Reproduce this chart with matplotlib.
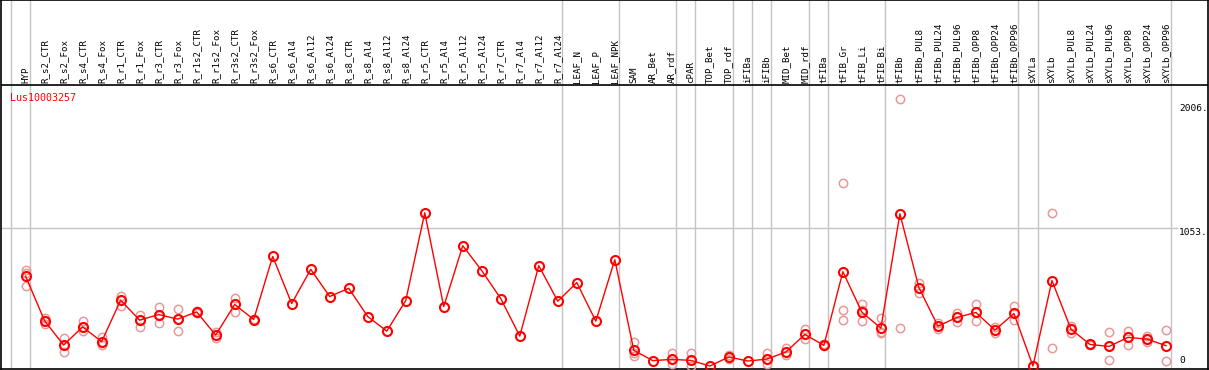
import matplotlib
matplotlib.use('Agg')
import matplotlib.pyplot as plt

# column labels, one per sample
labels = ['HYP',
          'R_s2_CTR', 'R_s2_Fox', 'R_s4_CTR', 'R_s4_Fox', 'R_r1_CTR', 'R_r1_Fox',
          'R_r3_CTR', 'R_r3_Fox', 'R_r1s2_CTR', 'R_r1s2_Fox', 'R_r3s2_CTR', 'R_r3s2_Fox',
          'R_s6_CTR', 'R_s6_Al4', 'R_s6_Al12', 'R_s6_Al24',
          'R_s8_CTR', 'R_s8_Al4', 'R_s8_Al12', 'R_s8_Al24',
          'R_r5_CTR', 'R_r5_Al4', 'R_r5_Al12', 'R_r5_Al24',
          'R_r7_CTR', 'R_r7_Al4', 'R_r7_Al12', 'R_r7_Al24',
          'LEAF_N', 'LEAF_P', 'LEAF_NPK',
          'SAM', 'AR_Bet', 'AR_rdf', 'cPAR', 'TOP_Bet', 'TOP_rdf', 'iFIBa', 'iFIBb',
          'MID_Bet', 'MID_rdf', 'tFIBa', 'tFIB_Gr', 'tFIB_Li', 'tFIB_Bi',
          'tFIBb', 'tFIBb_PUL8', 'tFIBb_PUL24', 'tFIBb_PUL96', 'tFIBb_OPP8', 'tFIBb_OPP24', 'tFIBb_OPP96',
          'sXYLa', 'sXYLb', 'sXYLb_PUL8', 'sXYLb_PUL24', 'sXYLb_PUL96', 'sXYLb_OPP8', 'sXYLb_OPP24', 'sXYLb_OPP96']

# mean expression per sample
mean_vals = [687, 346, 160, 300, 186, 504, 351, 394, 359, 414, 237, 471, 356,
             839, 478, 740, 532, 595, 379, 267, 501,
             1173, 455, 921, 730, 516, 229, 768, 496,
             639, 343, 814,
             120, 41, 51, 43, 0, 69, 38, 53, 107, 242, 158, 722, 412, 290,
             1165, 600, 305, 372, 410, 275, 402,
             0, 654, 282, 165, 150, 219, 206, 156]

# individual replicates (empty where they sit on the mean)
reps = [[733, 715, 613], [364, 346, 320], [211, 160, 104], [343, 300, 267], [221, 186, 160],
        [537, 504, 458], [389, 351, 300], [455, 394, 333], [440, 359, 267], [420, 414, 405],
        [262, 237, 211], [524, 471, 414], [360, 356, 350],
        [], [], [], [], [], [], [], [], [], [], [], [], [], [], [], [],
        [], [], [],
        [186, 97, 76], [], [97, 51, 15], [97, 43, 0], [], [83, 69, 53], [], [97, 53, 15],
        [135, 107, 84], [282, 242, 206], [165, 158, 152], [1401, 425, 349], [473, 430, 341],
        [364, 257, 249],
        [2045, 288], [636, 600, 559], [326, 305, 280], [407, 372, 338], [478, 410, 343],
        [300, 275, 254], [458, 402, 356],
        [], [1173, 135], [305, 282, 254], [172, 165, 158], [257, 153, 43], [265, 219, 163],
        [231, 206, 181], [275, 38]]

# last column index of each group (grey separators)
group_ends = [-1, 0, 28, 31, 34, 35, 37, 38, 39, 41, 42, 45, 52, 53, 60]

ytick_vals = [2006, 1053]
ytick_text = ['2006.', '1053.']
title = 'Lus10003257'

font = 'DejaVu Sans Mono'
grey = '#c4c4c4'
red = '#ff0000'
pink = '#e89898'

fig = plt.figure(figsize=(12.09, 3.70), dpi=100)
ax = fig.add_axes([0.6 / 1209, 1.0 / 370, 1207.4 / 1209, 368.6 / 370])
ax.set_xlim(-25 / 19, 1182 / 19)
ax.set_ylim(-22.9, 2799)
ax.set_xticks([])
ax.set_yticks([])
for s in ax.spines.values():
    s.set_color('black')
    s.set_linewidth(1.2)

for g in group_ends:
    ax.axvline(g + 0.24, color=grey, lw=1.0, zorder=1)

ax.hlines(1053, -2, 60.63, color=grey, lw=1.0, zorder=1)
ax.axhline(2149, color='black', lw=1.2, zorder=2)

x = list(range(len(labels)))

# replicates
rx, ry = [], []
for i, r in enumerate(reps):
    for v in r:
        rx.append(i)
        ry.append(v)
ax.plot(rx, ry, linestyle='none', marker='o', ms=6, mfc='none', mec=pink, mew=1.1, zorder=3)

# mean line
ax.plot(x, mean_vals, color=red, lw=1.0, marker='o', ms=6.5, mfc='none', mec=red, mew=1.5, zorder=4)

for i, lab in enumerate(labels):
    ax.text(i, 2164, lab, rotation=90, ha='center', va='bottom', fontsize=6.6,
            family=font, color='black')

ax.text(-0.84, 2090, title, ha='left', va='top', fontsize=7.2, family=font, color=red)

for v, t in zip(ytick_vals, ytick_text):
    ax.text(60.68, v, t, ha='left', va='top', fontsize=6.8, family=font, color='black')
ax.text(60.68, 5, '0', ha='left', va='bottom', fontsize=6.8, family=font, color='black')

fig.savefig('out.png', dpi=100)
